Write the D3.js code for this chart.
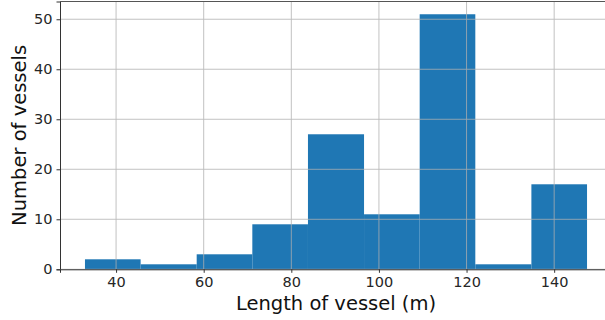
<!DOCTYPE html>
<html>
<head>
<meta charset="utf-8">
<script src="https://cdn.jsdelivr.net/npm/d3@7"></script>
<style>
  body { margin: 0; background: #fff; }
  svg { display: block; font-family: "DejaVu Sans", sans-serif; }
</style>
</head>
<body>
<div id="chart"></div>
<script>
// histogram bins
const binEdges = [32.9, 45.6, 58.4, 71.1, 83.8, 96.6, 109.3, 122.0, 134.8, 147.5];
const counts = [2, 1, 3, 9, 27, 11, 51, 1, 17];
const xTicks = [40, 60, 80, 100, 120, 140];
const yTicks = [0, 10, 20, 30, 40, 50];

const width = 605, height = 320;
const margin = { top: 1.5, right: -7, bottom: 50.7, left: 60 };

const bins = counts.map((c, i) => ({ x0: binEdges[i], x1: binEdges[i + 1], n: c }));

const svg = d3.select("#chart").append("svg")
  .attr("width", width)
  .attr("height", height);

const x = d3.scaleLinear()
  .domain([27.2, 153.2])
  .range([margin.left, width - margin.right]);

const y = d3.scaleLinear()
  .domain([0, 53.55])
  .range([height - margin.bottom, margin.top]);

// bars
svg.append("g")
  .selectAll("rect")
  .data(bins)
  .enter()
  .append("rect")
  .attr("x", d => x(d.x0))
  .attr("width", d => x(d.x1) - x(d.x0))
  .attr("y", d => y(d.n))
  .attr("height", d => y(0) - y(d.n))
  .attr("fill", "#1f77b4");

// grid drawn over the bars
const grid = svg.append("g").attr("stroke", "#b0b0b0").attr("stroke-width", 0.9).attr("opacity", 0.85);
grid.selectAll(".gx").data(xTicks).enter().append("line")
  .attr("x1", d => x(d)).attr("x2", d => x(d))
  .attr("y1", y.range()[0]).attr("y2", y.range()[1]);
grid.selectAll(".gy").data(yTicks).enter().append("line")
  .attr("x1", margin.left).attr("x2", width)
  .attr("y1", d => y(d)).attr("y2", d => y(d));

// axes
const xAxis = svg.append("g")
  .attr("transform", `translate(0,${y(0)})`)
  .call(d3.axisBottom(x).tickValues(xTicks).tickSize(3.5).tickPadding(4));
const yAxis = svg.append("g")
  .attr("transform", `translate(${margin.left},0)`)
  .call(d3.axisLeft(y).tickValues(yTicks).tickSize(3.5).tickPadding(4));

[xAxis, yAxis].forEach(a => {
  a.select(".domain").attr("stroke", "#333").attr("stroke-width", 1);
  a.selectAll(".tick line").attr("stroke", "#333");
  a.selectAll(".tick text")
    .attr("fill", "#262626")
    .style("font-size", "14.5px")
    .style("font-family", "DejaVu Sans");
});

// top spine
svg.append("line")
  .attr("x1", margin.left).attr("x2", width)
  .attr("y1", y(53.55)).attr("y2", y(53.55))
  .attr("stroke", "#555").attr("stroke-width", 1);

// axis labels
svg.append("text")
  .attr("x", 336)
  .attr("y", 310)
  .attr("text-anchor", "middle")
  .style("font-size", "19.5px")
  .attr("fill", "#111")
  .text("Length of vessel (m)");

svg.append("text")
  .attr("transform", `translate(26,${(y(0) + y(53.55)) / 2}) rotate(-90)`)
  .attr("text-anchor", "middle")
  .style("font-size", "19.5px")
  .attr("fill", "#111")
  .text("Number of vessels");
</script>
</body>
</html>
